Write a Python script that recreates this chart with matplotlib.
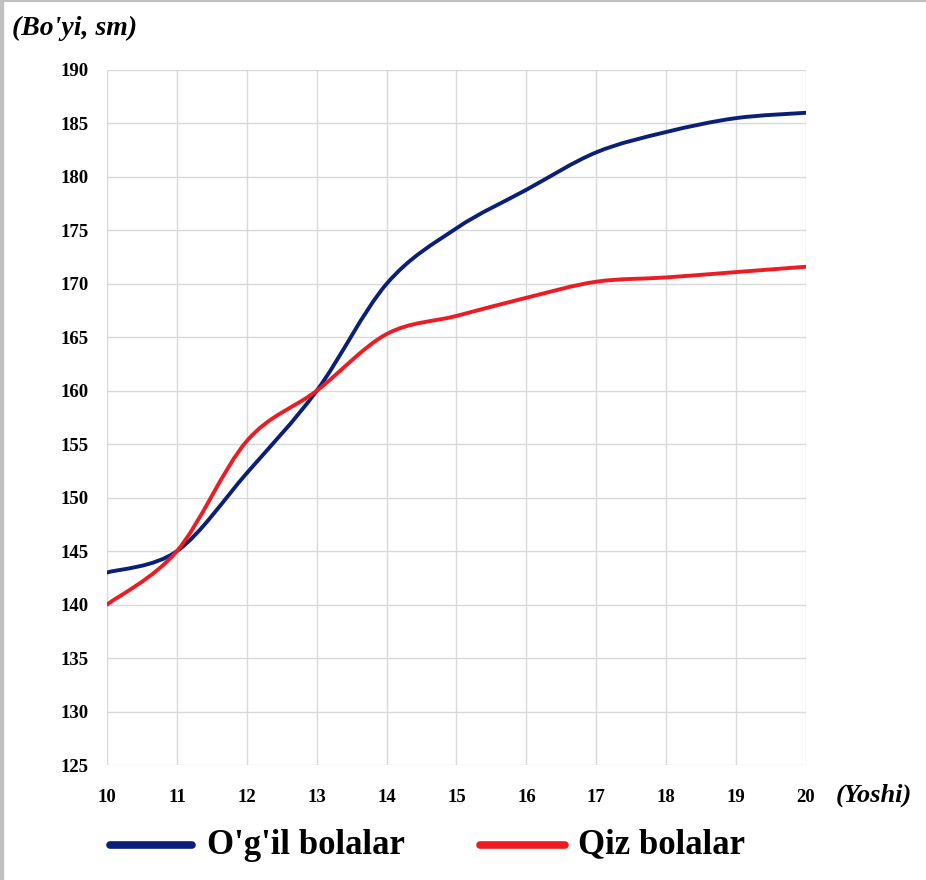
import matplotlib
matplotlib.use("Agg")
import matplotlib.pyplot as plt
import numpy as np
from matplotlib.path import Path
from matplotlib.patches import PathPatch
from matplotlib.lines import Line2D

# --- data ----------------------------------------------------------------
ages = [10, 11, 12, 13, 14, 15, 16, 17, 18, 19, 20]
boys = [143, 145, 152.3, 160, 170, 175.2, 178.8, 182.3, 184.2, 185.5, 186]
girls = [140, 145, 155.3, 160, 165.3, 167, 168.7, 170.2, 170.6, 171.1, 171.6]
y_ticks = list(range(125, 191, 5))
legend_labels = ["O'g'il bolalar", "Qiz bolalar"]

BLUE = "#0b1f78"
RED = "#ec1c24"
GRID = "#d9d9d9"
SERIF = ["Liberation Serif", "DejaVu Serif"]

plt.rcParams["font.family"] = SERIF


def smooth_path(x, y):
    """Excel-style smoothed line: cubic Bezier segments through each point."""
    pts = np.column_stack([x, y]).astype(float)
    n = len(pts)
    verts = [pts[0]]
    codes = [Path.MOVETO]
    for i in range(n - 1):
        p0 = pts[i - 1] if i > 0 else pts[i]
        p1, p2 = pts[i], pts[i + 1]
        p3 = pts[i + 2] if i + 2 < n else pts[i + 1]
        c1 = p1 + (p2 - p0) / 6
        c2 = p2 - (p3 - p1) / 6
        verts += [c1, c2, p2]
        codes += [Path.CURVE4] * 3
    return Path(verts, codes)


fig = plt.figure(figsize=(9.26, 8.8), dpi=100)
ax = fig.add_axes([107 / 926, 115 / 880, 699 / 926, 695 / 880])

for series, color in [(boys, BLUE), (girls, RED)]:
    ax.add_patch(PathPatch(smooth_path(ages, series), fill=False,
                           edgecolor=color, linewidth=2.8,
                           capstyle="round", zorder=3))

ax.set_xlim(10, 20)
ax.set_ylim(125, 190)
ax.set_xticks(ages)
ax.set_yticks(y_ticks)
ax.grid(True, color=GRID, linewidth=1.0)
ax.set_axisbelow(True)
for s in ax.spines.values():
    s.set_visible(False)
ax.tick_params(length=0, labelsize=13.5)
ax.tick_params(axis="x", pad=17)
ax.tick_params(axis="y", pad=13)
for lab in ax.get_xticklabels() + ax.get_yticklabels():
    lab.set_fontweight("bold")

fig.text(12 / 926, 1 - 28 / 880, "(Bo'yi, sm)", fontsize=20,
         fontweight="bold", style="italic", ha="left", va="center")
fig.text(836 / 926, 1 - 795 / 880, "(Yoshi)", fontsize=19,
         fontweight="bold", style="italic", ha="left", va="center")

# legend drawn as lines + text below the plot
handles = [Line2D([0], [0], color=BLUE, linewidth=5),
           Line2D([0], [0], color=RED, linewidth=5)]
for (x0, x1, tx), h, lab in zip([(110, 192, 207), (480, 565, 578)], handles, legend_labels):
    fig.add_artist(Line2D([x0 / 926, x1 / 926], [1 - 845 / 880] * 2,
                          color=h.get_color(), linewidth=5.5,
                          solid_capstyle="round"))
    fig.text(tx / 926, 1 - 845 / 880, lab, fontsize=25, fontweight="bold",
             ha="left", va="center")

# thin gray frame on the top and left edges, as in the source image
fig.add_artist(Line2D([0, 1], [1, 1], color="#c0c0c0", linewidth=3))
fig.add_artist(Line2D([0, 0], [0, 1], color="#c0c0c0", linewidth=6))

fig.savefig("out.png", dpi=100, facecolor="white")
